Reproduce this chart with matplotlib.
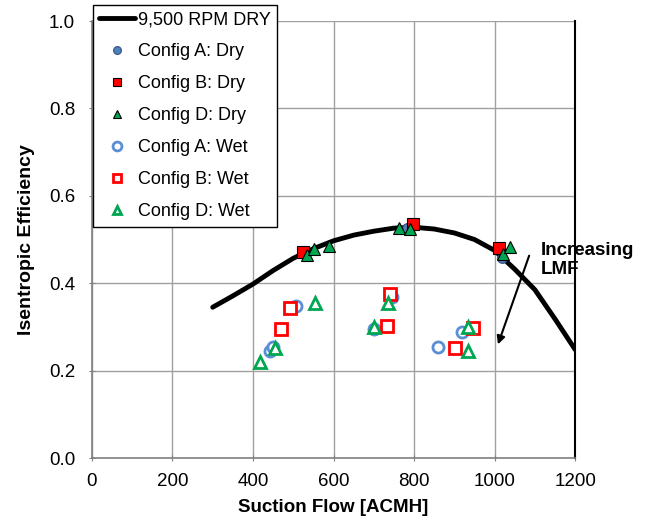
import matplotlib
matplotlib.use('Agg')
import matplotlib.pyplot as plt

plt.rcParams['font.family'] = ['Liberation Sans', 'DejaVu Sans']

# 9,500 RPM dry curve
curveX = [300, 350, 400, 450, 500, 550, 600, 650, 700, 750, 800, 850, 900, 950, 1000, 1050, 1100, 1150, 1200]
curveY = [0.345, 0.371, 0.398, 0.429, 0.457, 0.479, 0.497, 0.510, 0.519, 0.526, 0.528, 0.524, 0.515, 0.500, 0.475, 0.432, 0.385, 0.318, 0.248]

# dry points
aDryX = [782, 1018]
aDryY = [0.526, 0.457]
bDryX = [524, 798, 1011]
bDryY = [0.471, 0.535, 0.480]
dDryX = [534, 551, 589, 763, 790, 1021, 1039]
dDryY = [0.465, 0.478, 0.485, 0.526, 0.524, 0.467, 0.483]

# wet points
aWetX = [443, 450, 507, 700, 745, 860, 919]
aWetY = [0.245, 0.254, 0.348, 0.295, 0.368, 0.254, 0.288]
bWetX = [469, 492, 733, 740, 902, 946]
bWetY = [0.295, 0.343, 0.302, 0.375, 0.252, 0.297]
dWetX = [417, 455, 554, 700, 735, 934, 934]
dWetY = [0.220, 0.252, 0.355, 0.300, 0.355, 0.300, 0.245]

blue = '#4f81bd'
lblue = '#5b8ed6'
red = '#ff0000'
green = '#00a651'

fig = plt.figure(figsize=(6.47, 5.25), dpi=100)
ax = fig.add_axes([0.142, 0.1276, 0.747, 0.8324])

ax.plot(curveX, curveY, '-', color='black', lw=3.5, label='9,500 RPM DRY', zorder=2, solid_capstyle='round')
ax.plot(aDryX, aDryY, 'o', ms=7, mfc=blue, mec='#2f4f7f', mew=0.8, ls='none', label='Config A: Dry', zorder=3)
ax.plot(bDryX, bDryY, 's', ms=8, mfc=red, mec='black', mew=0.8, ls='none', label='Config B: Dry', zorder=3)
ax.plot(dDryX, dDryY, '^', ms=8, mfc=green, mec='black', mew=0.8, ls='none', label='Config D: Dry', zorder=4)
ax.plot(aWetX, aWetY, 'o', ms=8, mfc='white', mec=lblue, mew=2, ls='none', label='Config A: Wet', zorder=3)
ax.plot(bWetX, bWetY, 's', ms=8, mfc='white', mec=red, mew=2, ls='none', label='Config B: Wet', zorder=3)
ax.plot(dWetX, dWetY, '^', ms=8, mfc='white', mec=green, mew=2, ls='none', label='Config D: Wet', zorder=4)

ax.set_xlim(0, 1200)
ax.set_ylim(0, 1.0)
ax.set_xticks(range(0, 1201, 200))
ax.set_yticks([0, 0.2, 0.4, 0.6, 0.8, 1.0])
ax.set_yticklabels(['0.0', '0.2', '0.4', '0.6', '0.8', '1.0'])
ax.tick_params(labelsize=13.5, color='#808080', length=4, direction='inout')
ax.tick_params(axis='x', pad=9)
ax.tick_params(axis='y', pad=10)
ax.grid(True, color='#a0a0a0', lw=1)
ax.set_axisbelow(True)
for s in ['left', 'bottom']:
    ax.spines[s].set_color('#808080')
    ax.spines[s].set_linewidth(1.2)
ax.spines['top'].set_visible(False)
ax.spines['right'].set_color('black')
ax.spines['right'].set_linewidth(1.5)

ax.set_xlabel('Suction Flow [ACMH]', fontsize=13.5, fontweight='bold', labelpad=6)
ax.set_ylabel('Isentropic Efficiency', fontsize=14, fontweight='bold', labelpad=10)

ax.annotate('', xy=(1006, 0.254), xytext=(1088, 0.469),
            arrowprops=dict(arrowstyle='-|>', color='black', lw=1.5, mutation_scale=12))
ax.text(1115, 0.495, 'Increasing\nLMF', fontsize=13.5, fontweight='bold', va='top', ha='left', linespacing=1.15)

leg = ax.legend(loc='upper left', bbox_to_anchor=(93 / 647, 1 - 5 / 525), bbox_transform=fig.transFigure,
                fontsize=13, frameon=True, fancybox=False, edgecolor='black', framealpha=1,
                handlelength=2.0, handletextpad=0.15, labelspacing=0.83, borderpad=0.35,
                borderaxespad=0, markerscale=0.8)
leg.get_frame().set_linewidth(1)

plt.savefig('out.png', dpi=100)
